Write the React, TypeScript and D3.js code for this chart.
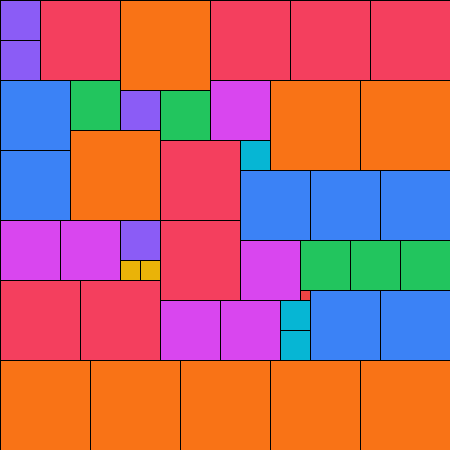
import React, { useEffect, useRef } from 'react';
import * as d3 from 'd3';

// side length of each square, in grid units (45 x 45 board)
const sizes = [1, 2, 3, 4, 5, 6, 7, 8, 9];
const colors = ['#ef4444', '#eab308', '#06b6d4', '#8b5cf6', '#22c55e', '#d946ef', '#3b82f6', '#f43f5e', '#f97316'];

// grid position [col, row] of each square, grouped by size
const size1 = [[30, 29]];
const size2 = [[12, 26], [14, 26]];
const size3 = [[24, 14], [28, 30], [28, 33]];
const size4 = [[0, 0], [0, 4], [12, 9], [12, 22]];
const size5 = [[7, 8], [16, 9], [30, 24], [35, 24], [40, 24]];
const size6 = [[21, 8], [0, 22], [6, 22], [24, 24], [16, 30], [22, 30]];
const size7 = [[0, 8], [0, 15], [24, 17], [31, 17], [38, 17], [31, 29], [38, 29]];
const size8 = [[4, 0], [21, 0], [29, 0], [37, 0], [16, 14], [16, 22], [0, 28], [8, 28]];
const size9 = [[12, 0], [27, 8], [36, 8], [7, 13], [0, 36], [9, 36], [18, 36], [27, 36], [36, 36]];

const positions = [size1, size2, size3, size4, size5, size6, size7, size8, size9];
const boardSize = 45;

const PackedSquares = ({ width = 450, height = 450 }) => {
  const svgRef = useRef<SVGSVGElement>(null);

  useEffect(() => {
    const svg = d3.select(svgRef.current);
    svg.selectAll('*').remove();

    const x = d3.scaleLinear().domain([0, boardSize]).range([0, width]);
    const y = d3.scaleLinear().domain([0, boardSize]).range([0, height]);

    const tiles = sizes.flatMap((s, i) =>
      positions[i].map(([c, r]) => ({ size: s, col: c, row: r, color: colors[i] }))
    );

    svg.append('g')
      .selectAll('rect')
      .data(tiles)
      .join('rect')
      .attr('x', d => x(d.col))
      .attr('y', d => y(d.row))
      .attr('width', d => x(d.col + d.size) - x(d.col))
      .attr('height', d => y(d.row + d.size) - y(d.row))
      .attr('fill', d => d.color)
      .attr('stroke', '#000')
      .attr('stroke-width', 1)
      .attr('shape-rendering', 'crispEdges');
  }, [width, height]);

  return (
    <div style={{ position: 'absolute', left: 0, top: 0, width, height }}>
      <svg ref={svgRef} width={width} height={height} style={{ display: 'block' }} />
    </div>
  );
};

export default function App() {
  return <PackedSquares />;
}
